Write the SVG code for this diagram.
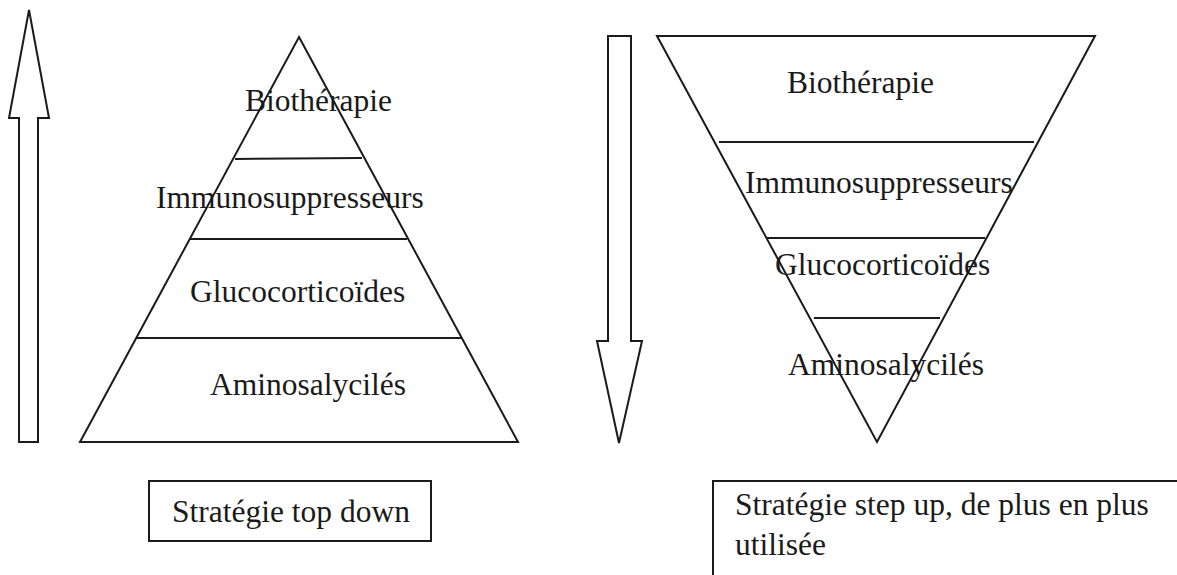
<svg xmlns="http://www.w3.org/2000/svg" width="1177" height="575" viewBox="0 0 1177 575">
<style>
.s{fill:none;stroke:#1a1a1a;stroke-width:2;stroke-linejoin:miter}
.t{font-family:"Liberation Serif","Times New Roman",serif;font-size:31.5px;fill:#1a1a1a}
</style>
<rect width="1177" height="575" fill="#fff"/>
<g id="connectors">
<polygon id="arrow-up" class="s" points="29,10 49,118 38,118 38,442 19,442 19,118 9,118"/>
<polygon id="arrow-down" class="s" points="608,36 631,36 631,341 642,341 619,443 597,341 608,341"/>
</g>
<g id="pyramid">
<polygon class="s" points="299,37 518,442 80,442"/>
<line class="s" x1="235" y1="159" x2="362" y2="158"/>
<line class="s" x1="189" y1="239" x2="407" y2="239"/>
<line class="s" x1="136" y1="338" x2="462" y2="338"/>
</g>
<g id="pyr-bio"><text class="t" x="245" y="111">Biothérapie</text></g>
<g id="pyr-immuno"><text class="t" x="156" y="208">Immunosuppresseurs</text></g>
<g id="pyr-gluco"><text class="t" x="190" y="302">Glucocorticoïdes</text></g>
<g id="pyr-amino"><text class="t" x="210" y="395">Aminosalycilés</text></g>
<g id="inverted">
<polygon class="s" points="657,36 1095,36 877,442"/>
<line class="s" x1="719" y1="142" x2="1034" y2="142"/>
<line class="s" x1="767" y1="238" x2="985" y2="238"/>
<line class="s" x1="814" y1="318" x2="940" y2="318"/>
</g>
<g id="inv-bio"><text class="t" x="787" y="93">Biothérapie</text></g>
<g id="inv-immuno"><text class="t" x="745" y="193">Immunosuppresseurs</text></g>
<g id="inv-gluco"><text class="t" x="775" y="275">Glucocorticoïdes</text></g>
<g id="inv-amino"><text class="t" x="788" y="375">Aminosalycilés</text></g>
<g id="box-topdown">
<rect class="s" x="149" y="481" width="282" height="60"/>
<text class="t" x="172" y="522">Stratégie top down</text>
</g>
<g id="box-stepup">
<polyline class="s" points="713,575 713,481 1177,481"/>
<text class="t" x="735" y="515">Stratégie step up, de plus en plus</text>
<text class="t" x="735" y="555">utilisée</text>
</g>
</svg>
